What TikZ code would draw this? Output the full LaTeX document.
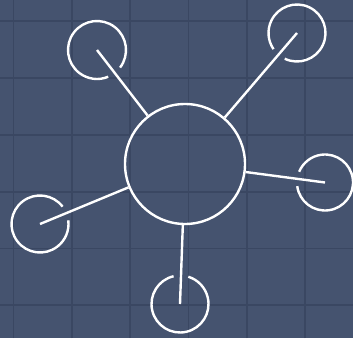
\documentclass[tikz,border=0pt]{standalone}
\usetikzlibrary{calc}
\definecolor{bgblue}{HTML}{45536F}
\definecolor{gridblue}{HTML}{3A4762}
\tikzset{
  gridline/.style={draw=gridblue, line width=1.6pt},
  stroke/.style={draw=white, line width=2.4pt},
  hubnode/.style={circle, stroke, minimum size=120pt, inner sep=0pt},
}
\begin{document}
\begin{tikzpicture}[x=1pt,y=1pt]
  \fill[bgblue] (0,0) rectangle (353,338);
  \useasboundingbox (0,0) rectangle (353,338);
  % grid
  \foreach \gx in {13.3,71.7,130,188.3,246.7,305}
    \draw[gridline] (\gx,0) -- (\gx,338);
  \foreach \gy in {317,260,203,146.3,89.7,33}
    \draw[gridline] (0,\gy) -- (353,\gy);
  % hub
  \node[hubnode] (hub) at (185,174) {};
  % satellites: name / position / radius / direction to hub
  \coordinate (s1) at (97,288);
  \coordinate (s2) at (297,305);
  \coordinate (s3) at (325,155.5);
  \coordinate (s4) at (40,114);
  \coordinate (s5) at (180,34);
  \foreach \s/\r/\t in {s1/29/-52.3, s2/28.5/-130.5, s3/28/172.5, s4/28.5/22.5, s5/28.5/88}{
    \draw[stroke] ($(\s)+(\t+15:\r)$) arc[start angle=\t+15, end angle=\t+345, radius=\r];
    \draw[stroke] (\s) -- (hub);
  }
\end{tikzpicture}
\end{document}
